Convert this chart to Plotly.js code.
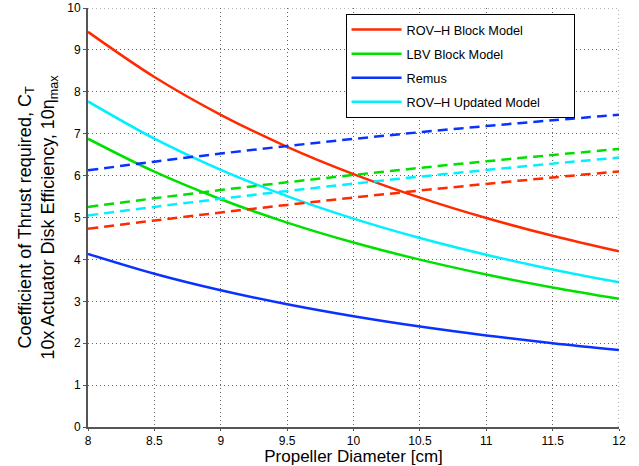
<!DOCTYPE html>
<html>
<head>
<meta charset="utf-8">
<script src="https://cdn.plot.ly/plotly-3.0.1.min.js"></script>
<style>html,body{margin:0;padding:0;background:#fff;}#chart{width:639px;height:466px;}</style>
</head>
<body>
<div id="chart"></div>
<script>
// Propeller diameter [cm]
const diameter = [8, 8.5, 9, 9.5, 10, 10.5, 11, 11.5, 12];

// Coefficient of thrust required, C_T (solid lines)
const ctRovBlock   = [9.43, 8.353, 7.451, 6.687, 6.035, 5.474, 4.988, 4.564, 4.191];
const ctLbvBlock   = [6.88, 6.094, 5.436, 4.879, 4.403, 3.994, 3.639, 3.329, 3.058];
const ctRemus      = [4.13, 3.658, 3.263, 2.929, 2.643, 2.397, 2.185, 1.999, 1.836];
const ctRovUpdated = [7.77, 6.883, 6.139, 5.510, 4.973, 4.510, 4.110, 3.760, 3.453];

// 10x actuator disk efficiency, 10*eta_max (dashed lines)
const etaRovBlock   = [4.729, 4.928, 5.119, 5.301, 5.476, 5.643, 5.802, 5.955, 6.100];
const etaLbvBlock   = [5.253, 5.459, 5.655, 5.840, 6.016, 6.183, 6.342, 6.492, 6.635];
const etaRemus      = [6.126, 6.333, 6.526, 6.706, 6.876, 7.035, 7.182, 7.321, 7.451];
const etaRovUpdated = [5.049, 5.252, 5.447, 5.631, 5.807, 5.975, 6.134, 6.286, 6.430];

const seriesNames = ["ROV\u2013H Block Model", "LBV Block Model", "Remus", "ROV\u2013H Updated Model"];
const seriesColors = ["#ff2a00", "#00e000", "#0a32ff", "#00f0ff"];
const ctSeries = [ctRovBlock, ctLbvBlock, ctRemus, ctRovUpdated];
const etaSeries = [etaRovBlock, etaLbvBlock, etaRemus, etaRovUpdated];

// trailing spacing widens the legend box like the reference
const legendPad = "\u00a0".repeat(8) + "\u200b";

const traces = [];
ctSeries.forEach((ys, i) => {
  traces.push({
    x: diameter, y: ys, type: "scatter", mode: "lines",
    name: seriesNames[i] + legendPad,
    line: {color: seriesColors[i], width: 2.5, shape: "spline"},
    legendgroup: "g" + i
  });
});
etaSeries.forEach((ys, i) => {
  traces.push({
    x: diameter, y: ys, type: "scatter", mode: "lines",
    name: seriesNames[i], showlegend: false,
    line: {color: seriesColors[i], width: 2.5, shape: "spline", dash: "10px,6px"},
    legendgroup: "g" + i
  });
});

const gridStyle = {color: "#666", width: 1, dash: "1px,3px"};

const layout = {
  width: 639, height: 466,
  margin: {l: 88, r: 20, t: 8, b: 39},
  paper_bgcolor: "#fff", plot_bgcolor: "#fff",
  font: {family: "Liberation Sans, Arial, Helvetica, sans-serif", color: "#000", size: 12},
  xaxis: {
    range: [8, 12], dtick: 0.5, tick0: 8,
    showgrid: true, gridcolor: gridStyle.color, griddash: gridStyle.dash, gridwidth: 1,
    showline: true, linecolor: "#555", linewidth: 2,
    ticks: "outside", ticklen: 2, tickcolor: "#555",
    zeroline: false,
    tickfont: {size: 12},
    title: {text: "Propeller Diameter [cm]", font: {size: 17}, standoff: 5}
  },
  yaxis: {
    range: [0, 10], dtick: 1,
    showgrid: true, gridcolor: gridStyle.color, griddash: gridStyle.dash, gridwidth: 1,
    showline: true, linecolor: "#555", linewidth: 2,
    ticks: "outside", ticklen: 3, tickcolor: "#555",
    zeroline: false,
    tickfont: {size: 12},
    title: {text: "Coefficient of Thrust required, C<sub>T</sub><br>10x Actuator Disk Efficiency, 10\u03b7<sub>max</sub>", font: {size: 18}, standoff: 8}
  },
  showlegend: true,
  legend: {
    x: 0.485, y: 0.986, xanchor: "left", yanchor: "top",
    bgcolor: "#fff", bordercolor: "#000", borderwidth: 1,
    font: {size: 12.7},
    itemwidth: 50,
    tracegroupgap: 4.5
  },
  shapes: [
    {type: "line", xref: "x", yref: "y", x0: 12, x1: 12, y0: 0, y1: 10, line: gridStyle},
    {type: "line", xref: "x", yref: "y", x0: 8, x1: 12, y0: 10, y1: 10, line: gridStyle}
  ]
};

Plotly.newPlot("chart", traces, layout, {displayModeBar: false, staticPlot: true});
</script>
</body>
</html>
